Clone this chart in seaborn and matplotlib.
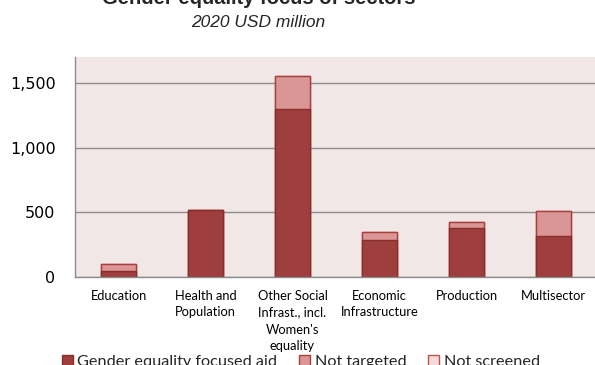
import matplotlib
matplotlib.use("Agg")
import matplotlib.pyplot as plt
import seaborn as sns
import pandas as pd
import numpy as np
from matplotlib.patches import Patch
from matplotlib.ticker import FuncFormatter, FixedLocator

sectors = ["Education", "Health and\nPopulation",
           "Other Social\nInfrast., incl.\nWomen's\nequality",
           "Economic\nInfrastructure", "Production", "Multisector"]
gender_focused = [48, 515, 1300, 285, 380, 318]
not_targeted = [54, 0, 250, 60, 45, 192]
not_screened = [0, 0, 0, 0, 0, 0]
series_names = ["Gender equality focused aid", "Not targeted", "Not screened"]

c_ge, c_nt, c_ns = "#9E3F3E", "#D99694", "#F2DCDB"
e_ge, e_nt, e_ns = "#8A2E2D", "#A83F3D", "#C0504D"

df = pd.DataFrame({"sector": sectors,
                   "ge": gender_focused,
                   "nt": not_targeted,
                   "ns": not_screened})
df["lvl1"] = df["ge"]
df["lvl2"] = df["ge"] + df["nt"]
df["lvl3"] = df["lvl2"] + df["ns"]

sns.set_theme(style="white")
plt.rcParams["font.family"] = ["DejaVu Sans"]

fig = plt.figure(figsize=(5.95, 3.65), dpi=100)
ax = fig.add_axes([75 / 595, (365 - 277) / 365, 522 / 595, (277 - 57) / 365])
ax.set_facecolor("#F2E7E7")

for col, fc, ec in [("lvl3", c_ns, e_ns), ("lvl2", c_nt, e_nt), ("lvl1", c_ge, e_ge)]:
    sns.barplot(data=df, x="sector", y=col, color=fc, saturation=1,
                width=0.41, edgecolor=ec, linewidth=1.0, ax=ax)

ax.set_xlim(-0.5, 5.5)
ax.set_ylim(0, 1700)
ax.set_yticks([0, 500, 1000, 1500])
ax.yaxis.set_major_formatter(FuncFormatter(lambda v, p: f"{v:,.0f}"))
ax.yaxis.grid(True, color="#8C8C8C", linewidth=1.0)
ax.set_axisbelow(True)
ax.set_xlabel("")
ax.set_ylabel("")

for s in ["top", "right"]:
    ax.spines[s].set_visible(False)
for s in ["left", "bottom"]:
    ax.spines[s].set_color("#8C8C8C")
    ax.spines[s].set_linewidth(1.0)

ax.tick_params(axis="y", which="major", direction="out", length=5, width=1,
               color="#8C8C8C", pad=9, labelsize=11.5, labelcolor="#000000")
ax.xaxis.set_minor_locator(FixedLocator(np.arange(-0.5, 6.0, 1.0)))
ax.tick_params(axis="x", which="minor", direction="out", length=3.5, width=1,
               color="#8C8C8C")
ax.tick_params(axis="x", which="major", length=0, pad=9)
for lab in ax.get_xticklabels():
    lab.set_fontfamily(["Lato", "DejaVu Sans"])
    lab.set_fontsize(9.3)
    lab.set_linespacing(1.5)
    lab.set_color("#000000")

fig.text(259 / 595, 1 - 4 / 365, "Gender equality focus of sectors",
         ha="center", va="baseline", fontsize=14.5, fontweight="bold",
         family=["Liberation Sans", "DejaVu Sans"])
fig.text(258 / 595, 1 - 27 / 365, "2020 USD million",
         ha="center", va="baseline", fontsize=12.5, style="italic",
         family=["Liberation Sans", "DejaVu Sans"])

handles = [Patch(facecolor=c_ge, edgecolor=e_ge, linewidth=1),
           Patch(facecolor=c_nt, edgecolor=e_nt, linewidth=1),
           Patch(facecolor=c_ns, edgecolor=e_ns, linewidth=1)]
leg = fig.legend(handles, series_names, loc="center", ncol=3,
                 bbox_to_anchor=(301 / 595, 1 - 362 / 365), frameon=False,
                 prop={"family": ["Lato", "DejaVu Sans"], "size": 11.7},
                 handlelength=0.65, handleheight=0.65, handletextpad=0.3,
                 columnspacing=1.35, borderpad=0, borderaxespad=0)

fig.savefig("out.png", dpi=100)
